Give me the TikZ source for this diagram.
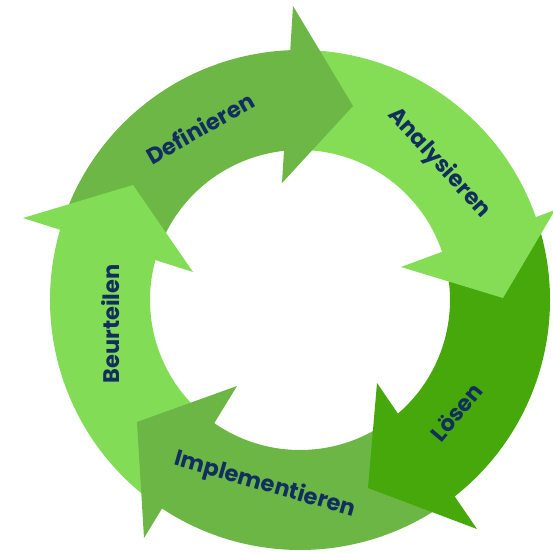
\documentclass[tikz,border=0pt]{standalone}
\usepackage{fontspec}
\setmainfont{Poppins}
\definecolor{cDef}{HTML}{6CB746}
\definecolor{cAna}{HTML}{84DD55}
\definecolor{cLoe}{HTML}{46A80A}
\definecolor{cImp}{HTML}{6CB646}
\definecolor{cBeu}{HTML}{82DC55}
\definecolor{txt}{HTML}{102E5E}
\begin{document}
\begin{tikzpicture}[x=1pt,y=1pt,
  lbl/.style={text=txt,font=\bfseries\fontsize{22.5}{22.5}\selectfont,inner sep=0pt}]
\useasboundingbox (-300,-252) rectangle (253,300);
\newcommand{\ringseg}[3]{\fill[#1] (#2:250) arc[start angle=#2,end angle=#3,radius=250] -- (#3:150) arc[start angle=#3,end angle=#2,radius=150] -- cycle;}
% bodies
\ringseg{cDef}{162}{90}
\ringseg{cAna}{90}{17}
\ringseg{cLoe}{17}{-53}
\ringseg{cImp}{307}{232}
\ringseg{cBeu}{232}{162}
% heads
\fill[cDef] (-18,117) -- (-7,294) -- (53,194) -- cycle;
\fill[cAna] (101,33) -- (255,90) -- (203,2) -- cycle;
\fill[cLoe] (77,-83) -- (177,-229) -- (68,-188) -- cycle;
\fill[cImp] (-63,-86) -- (-156,-238) -- (-163,-122) -- cycle;
\fill[cBeu] (-107,28) -- (-277,82) -- (-167,115) -- cycle;
% labels
\node[lbl,rotate=29.5] (tdef) at (-100,172) {Definieren};
\node[lbl,rotate=-47.6] (tana) at (139,137) {Analysieren};
\node[lbl,rotate=50] (tloe) at (156,-112) {Lösen};
\node[lbl,rotate=-16] (timp) at (-35,-185) {Implementieren};
\node[lbl,rotate=90] (tbeu) at (-189,-24) {Beurteilen};
\end{tikzpicture}
\end{document}
